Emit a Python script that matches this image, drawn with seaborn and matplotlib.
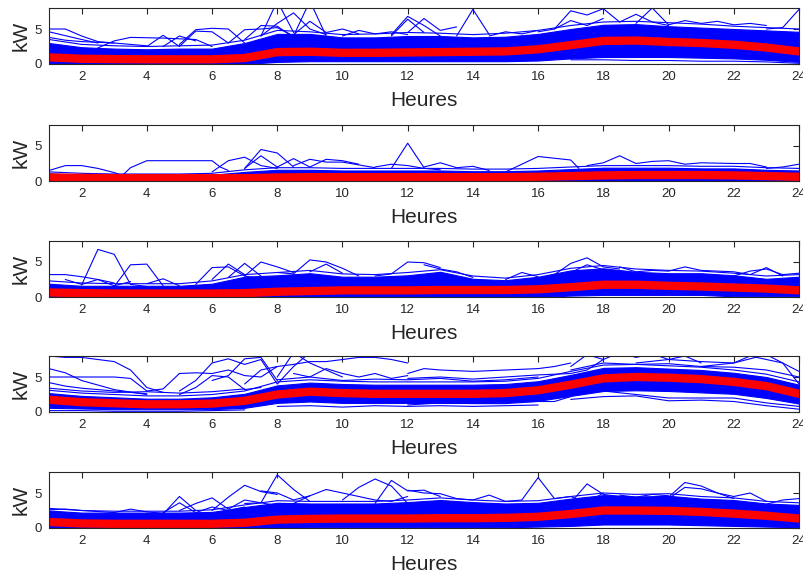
import numpy as np
import pandas as pd
import matplotlib
matplotlib.use('Agg')
import matplotlib.pyplot as plt
import seaborn as sns

# hourly axis
hours = list(range(1, 25))

# mean profiles (red) per panel, kW
mean_1 = [0.95, 0.75, 0.7, 0.67, 0.67, 0.67, 0.85, 1.7, 1.75, 1.6, 1.6, 1.65,
          1.7, 1.75, 1.8, 2.1, 2.7, 3.3, 3.35, 3.15, 3.0, 2.75, 2.35, 1.8]
mean_2 = [0.5, 0.45, 0.4, 0.4, 0.4, 0.4, 0.4, 0.5, 0.55, 0.55, 0.55, 0.55,
          0.55, 0.55, 0.55, 0.6, 0.7, 0.8, 0.85, 0.85, 0.85, 0.8, 0.7, 0.6]
mean_3 = [0.65, 0.55, 0.5, 0.5, 0.5, 0.5, 0.55, 0.75, 0.85, 0.95, 0.95, 0.95,
          1.0, 1.0, 1.0, 1.1, 1.4, 1.75, 1.75, 1.6, 1.5, 1.35, 1.2, 0.95]
mean_4 = [1.75, 1.4, 1.25, 1.1, 1.1, 1.2, 1.6, 2.5, 2.9, 2.7, 2.6, 2.6,
          2.6, 2.6, 2.7, 3.1, 3.9, 4.8, 5.0, 4.9, 4.7, 4.3, 3.7, 2.6]
mean_5 = [0.85, 0.65, 0.6, 0.6, 0.6, 0.6, 0.75, 1.2, 1.3, 1.35, 1.35, 1.35,
          1.4, 1.4, 1.45, 1.6, 2.0, 2.5, 2.5, 2.45, 2.3, 2.05, 1.75, 1.35]

# dense part of the individual curves (lower / upper edge)
low_1 = [0, 0, 0, 0, 0, 0, 0, 0.3, 0.4, 0.4, 0.4, 0.4,
         0.4, 0.4, 0.4, 0.5, 0.8, 1.0, 1.0, 1.0, 0.9, 0.8, 0.6, 0.3]
high_1 = [3.0, 2.4, 2.2, 2.1, 2.2, 2.2, 3.0, 4.3, 4.3, 3.8, 3.8, 4.0,
          4.0, 3.8, 3.9, 4.3, 5.0, 5.6, 5.7, 5.4, 5.2, 5.0, 4.8, 4.6]
low_2 = [0] * 24
high_2 = [1.1, 0.9, 0.8, 0.8, 0.8, 0.9, 1.3, 1.6, 1.6, 1.5, 1.5, 1.5,
          1.5, 1.4, 1.4, 1.5, 1.7, 1.9, 1.9, 1.9, 1.8, 1.8, 1.6, 1.5]
low_3 = [0, 0, 0, 0, 0, 0, 0, 0, 0, 0, 0, 0,
         0, 0, 0, 0, 0.2, 0.3, 0.3, 0.3, 0.3, 0.1, 0.1, 0.1]
high_3 = [1.9, 1.6, 1.6, 1.6, 1.6, 1.9, 2.9, 3.1, 3.4, 2.9, 2.9, 3.1,
          3.6, 2.6, 2.4, 2.9, 3.8, 4.1, 3.6, 3.4, 3.4, 3.1, 2.6, 2.9]
low_4 = [0.6, 0.5, 0.4, 0.4, 0.4, 0.4, 0.6, 1.3, 1.5, 1.3, 1.3, 1.3,
         1.3, 1.3, 1.4, 1.6, 2.3, 3.0, 3.1, 3.0, 2.8, 2.6, 2.0, 1.2]
high_4 = [2.7, 2.3, 2.1, 1.9, 1.9, 2.1, 2.6, 3.8, 4.2, 4.0, 3.9, 3.9,
          3.9, 3.9, 4.0, 4.4, 5.3, 6.3, 6.4, 6.2, 6.0, 5.6, 5.0, 3.9]
low_5 = [0, 0, 0, 0, 0, 0, 0, 0, 0.1, 0.1, 0.1, 0.1,
         0.1, 0.1, 0.1, 0.2, 0.3, 0.5, 0.5, 0.5, 0.4, 0.3, 0.2, 0.1]
high_5 = [2.5, 2.2, 2.2, 2.2, 2.2, 2.3, 3.0, 3.6, 3.5, 3.5, 3.5, 3.7,
          4.0, 3.7, 3.5, 3.6, 4.2, 4.7, 4.5, 4.6, 4.2, 4.0, 3.5, 3.3]

# a curve running just above the dense band
edge_1 = [3.5, 2.8, 2.6, 2.5, 2.6, 2.7, 3.4, 4.8, 4.6, 4.2, 4.3, 4.5,
          4.4, 4.2, 4.4, 4.8, 5.5, 6.0, 6.1, 5.9, 5.7, 5.4, 5.2, 5.0]
edge_2 = [1.3, 1.1, 1.0, 1.0, 1.0, 1.1, 1.6, 1.9, 1.9, 1.8, 1.8, 1.8,
          1.8, 1.7, 1.7, 1.8, 2.0, 2.2, 2.2, 2.2, 2.1, 2.1, 1.9, 1.8]
edge_3 = [2.3, 2.0, 1.9, 1.9, 1.9, 2.3, 3.2, 3.5, 3.8, 3.3, 3.2, 3.5,
          3.9, 3.0, 2.7, 3.2, 4.1, 4.5, 4.0, 3.8, 3.7, 3.4, 3.0, 3.2]
edge_4 = [3.1, 2.7, 2.5, 2.3, 2.3, 2.5, 3.0, 4.3, 4.6, 4.4, 4.3, 4.3,
          4.3, 4.3, 4.4, 4.8, 5.8, 6.7, 6.8, 6.6, 6.4, 6.0, 5.4, 4.3]
edge_5 = [2.8, 2.5, 2.4, 2.4, 2.4, 2.6, 3.3, 3.9, 3.8, 3.8, 3.8, 4.0,
          4.3, 4.0, 3.8, 3.9, 4.5, 5.0, 4.8, 4.9, 4.5, 4.3, 3.8, 3.6]

# individual curves that leave the dense band (half-hourly points)
spikes_1 = [
    ([1, 1.5, 2, 2.5, 3], [5.0, 5.0, 4.0, 3.2, 3.0]),
    ([1, 2, 2.5], [4.6, 3.5, 3.0]),
    ([1, 1.5, 2, 3, 4], [3.8, 3.4, 3.2, 3.0, 2.6]),
    ([2.5, 3, 3.5, 4.5, 5.5, 6], [2.3, 3.3, 3.8, 3.7, 3.5, 2.5]),
    ([5, 5.5, 6, 6.5, 7], [2.8, 4.9, 5.1, 5.0, 3.0]),
    ([5, 5.5, 6, 6.5], [2.5, 4.7, 4.6, 3.0]),
    ([4, 4.5, 5], [2.5, 4.1, 2.5]),
    ([4.5, 5, 5.5], [2.5, 4.0, 3.3]),
    ([6.5, 7, 7.5, 8, 8.5], [3.0, 4.9, 5.0, 5.2, 4.0]),
    ([7, 7.5, 8, 8.5], [3.5, 5.5, 5.4, 3.8]),
    ([7.5, 8, 8.5, 9, 9.5], [4.0, 5.8, 7.3, 5.0, 4.2]),
    ([8.5, 9, 9.5], [4.0, 9.0, 4.0]),
    ([7.5, 8, 8.5], [4.0, 9.0, 4.5]),
    ([8.5, 9, 9.5, 10, 10.5], [4.2, 6.1, 4.5, 5.0, 4.3]),
    ([10, 10.5, 11, 11.5, 12], [4.0, 4.8, 4.3, 4.6, 4.2]),
    ([11.5, 12, 12.5, 13], [4.2, 6.8, 5.5, 4.0]),
    ([11.5, 12, 12.5], [4.0, 6.4, 4.5]),
    ([12, 12.5, 13, 13.5], [4.5, 6.5, 4.8, 5.3]),
    ([13.5, 14, 14.5], [4.0, 7.8, 4.2]),
    ([14.5, 15, 15.5, 16], [4.0, 4.6, 4.3, 4.8]),
    ([16, 16.5, 17, 17.5, 18, 18.5], [4.6, 5.0, 7.6, 7.0, 7.9, 6.0]),
    ([16.5, 17, 17.5, 18], [5.0, 6.2, 5.5, 6.5]),
    ([18.5, 19, 19.5, 20], [6.0, 7.1, 6.0, 5.5]),
    ([19, 19.5, 20], [5.8, 8.0, 5.6]),
    ([20, 20.5, 21, 21.5, 22, 22.5, 23], [5.6, 6.2, 5.8, 6.1, 5.6, 5.8, 5.5]),
    ([23, 23.5, 24], [5.0, 5.2, 7.8]),
    ([17, 18, 19, 20, 21, 22, 23, 24], [0.6, 0.6, 0.5, 0.5, 0.4, 0.4, 0.3, 0.1]),
]
spikes_2 = [
    ([1, 1.5, 2, 2.5, 3, 3.25], [1.5, 2.2, 2.2, 1.8, 1.2, 0.8]),
    ([3.25, 3.5, 4, 4.5, 5, 5.5, 6, 6.25, 6.5], [0.8, 1.9, 2.9, 2.9, 2.9, 2.9, 2.9, 2.0, 1.5]),
    ([6, 6.5, 7, 7.5, 8], [1.3, 2.9, 3.4, 2.2, 1.8]),
    ([7, 7.5, 8, 8.5], [1.8, 4.5, 4.0, 2.0]),
    ([7, 7.5, 8], [1.8, 3.6, 2.0]),
    ([8, 8.5, 9, 9.5, 10, 10.5], [2.0, 3.2, 2.0, 3.1, 2.9, 2.4]),
    ([8.5, 9, 9.5, 10, 10.5, 11], [2.2, 3.1, 2.7, 2.7, 2.3, 1.9]),
    ([11, 11.5, 12, 12.5, 13], [2.0, 2.4, 2.2, 1.8, 1.6]),
    ([11.5, 12, 12.5], [1.8, 5.4, 1.9]),
    ([12.5, 13, 13.5, 14, 14.5], [2.0, 2.6, 1.9, 2.1, 1.5]),
    ([15, 15.5, 16, 17, 17.25], [1.3, 2.4, 3.5, 3.0, 1.8]),
    ([17.5, 18, 18.5, 19, 19.5, 20, 20.5, 21, 22, 22.5, 23],
     [2.2, 2.6, 3.6, 2.5, 2.8, 2.9, 2.4, 2.6, 2.5, 2.5, 2.0]),
    ([23, 23.5, 24], [1.8, 2.0, 2.4]),
]
spikes_3 = [
    ([1, 1.5, 2, 2.5, 3], [3.2, 3.2, 2.9, 2.5, 2.0]),
    ([2, 2.5, 3, 3.5, 4], [1.7, 6.8, 6.1, 1.8, 1.5]),
    ([3, 3.5, 4, 4.5], [1.5, 4.6, 4.7, 1.6]),
    ([1.5, 2, 2.5, 3, 3.5], [2.5, 1.8, 2.5, 1.6, 2.2]),
    ([4, 4.5, 5], [1.9, 2.6, 1.6]),
    ([5.5, 6, 6.5, 7, 7.5], [1.8, 4.2, 4.3, 3.0, 2.6]),
    ([6, 6.5, 7], [2.5, 4.7, 3.2]),
    ([6.5, 7, 7.5], [2.8, 4.8, 3.0]),
    ([7, 7.5, 8, 8.5], [3.0, 5.0, 4.3, 3.5]),
    ([8, 8.5, 9, 9.5, 10, 10.5], [3.5, 3.3, 5.3, 5.0, 4.1, 3.0]),
    ([9, 9.5, 10], [3.6, 4.7, 3.4]),
    ([11, 11.5, 12, 12.5, 13], [3.0, 3.3, 5.0, 4.9, 4.2]),
    ([12.5, 13, 13.5, 14], [4.6, 4.0, 3.6, 2.8]),
    ([15, 15.5, 16], [2.5, 3.5, 2.9]),
    ([16.5, 17, 17.5, 18, 18.5], [3.2, 4.8, 5.6, 4.3, 4.0]),
    ([17, 17.5, 18], [3.5, 4.6, 3.9]),
    ([18.5, 19, 19.5, 20, 20.5, 21, 22, 22.5, 23, 23.5],
     [4.3, 3.6, 3.8, 3.7, 4.3, 3.8, 3.6, 3.2, 4.2, 3.0]),
    ([22, 22.5, 23, 23.5, 24], [3.0, 3.7, 4.0, 3.2, 3.4]),
]
spikes_4 = [
    ([1, 1.5, 2, 3, 3.5, 4, 4.5], [8.0, 7.8, 7.8, 7.2, 6.0, 3.5, 2.8]),
    ([1, 1.5, 2, 3, 4], [6.2, 5.6, 4.5, 3.2, 2.5]),
    ([1, 2, 3, 3.5, 4], [5.0, 5.0, 5.0, 4.8, 3.0]),
    ([1, 1.5, 2, 3, 4], [4.2, 3.7, 3.4, 3.0, 2.6]),
    ([1, 2, 3, 4, 5, 6, 7], [3.4, 3.0, 2.8, 2.9, 2.7, 2.9, 3.3]),
    ([1, 2, 3, 4, 5, 6, 7], [0.2, 0.2, 0.1, 0.1, 0.1, 0.2, 0.3]),
    ([4, 4.5, 5, 5.5, 6, 6.5, 7, 7.5, 8], [3.0, 3.3, 5.5, 5.6, 5.5, 6.0, 5.2, 5.0, 6.5]),
    ([5, 5.5, 6, 6.5, 7, 7.5, 8, 8.5, 9], [3.0, 4.5, 7.0, 7.6, 6.8, 7.5, 4.0, 6.5, 8.5]),
    ([6, 6.5, 7, 7.5, 8], [4.5, 5.2, 7.6, 7.8, 4.5]),
    ([5, 5.5, 6, 6.5, 7, 7.5], [2.5, 3.5, 5.2, 5.0, 3.2, 3.5]),
    ([7, 7.5, 8, 8.5, 9, 9.5, 10, 10.5, 11, 11.5, 12],
     [4.0, 6.0, 6.5, 6.8, 7.2, 7.2, 7.5, 7.8, 7.8, 7.5, 7.0]),
    ([8, 8.5, 9, 9.5, 10], [5.0, 8.5, 7.0, 6.0, 5.0]),
    ([8.5, 9, 9.5, 10, 10.5, 11, 11.5, 12], [5.5, 5.0, 6.2, 5.5, 5.0, 5.5, 4.8, 5.2]),
    ([8, 9, 10, 11, 12, 13, 14, 15, 16], [4.6, 5.0, 4.5, 4.7, 4.6, 4.8, 4.4, 4.6, 5.0]),
    ([8, 9, 10, 11, 12, 13, 14, 15, 16], [0.8, 0.9, 0.7, 0.9, 0.8, 0.9, 0.8, 0.9, 1.0]),
    ([12, 12.5, 13, 14, 15, 16, 16.5, 17], [5.5, 6.2, 6.0, 5.8, 6.0, 6.2, 6.5, 7.0]),
    ([12, 13, 14, 15, 16, 17, 17.5, 18], [4.8, 5.0, 4.7, 5.0, 5.3, 5.5, 6.0, 7.5]),
    ([17, 17.5, 18, 18.5, 19, 19.5, 20, 20.5, 21], [6.5, 8.2, 7.5, 8.5, 7.8, 8.3, 7.5, 8.0, 7.0]),
    ([19, 20, 21, 22, 22.5, 23, 23.5, 24], [7.0, 7.5, 7.2, 7.0, 8.0, 7.5, 7.0, 5.8]),
    ([21, 22, 22.5, 23, 23.5, 24], [6.5, 7.0, 7.6, 8.2, 7.0, 4.0]),
    ([17, 18, 19, 20, 21, 22, 23, 24], [6.0, 7.0, 6.8, 6.9, 6.5, 6.4, 6.0, 5.0]),
    ([12, 13, 14, 15, 16, 16.5, 17], [1.0, 1.3, 1.2, 1.2, 1.5, 1.5, 2.2]),
    ([17, 18, 19, 20, 21, 22, 23, 24], [2.5, 3.0, 2.5, 2.0, 2.0, 2.0, 1.3, 0.8]),
    ([17, 18, 19, 20, 21, 22, 23, 24], [1.8, 2.2, 2.3, 1.6, 1.7, 1.5, 0.9, 0.4]),
]
spikes_5 = [
    ([1, 1.5, 2, 3, 3.5, 4, 4.5], [2.6, 2.7, 2.5, 2.2, 2.7, 2.3, 2.1]),
    ([4.5, 5, 5.5], [2.0, 4.5, 2.5]),
    ([4.5, 5, 5.5, 6, 6.5, 7], [2.2, 3.6, 2.2, 3.0, 2.5, 3.0]),
    ([5, 5.5, 6, 6.5, 7, 7.5, 8], [2.5, 3.5, 4.3, 2.7, 4.0, 3.6, 3.2]),
    ([6, 6.5, 7, 7.5, 8], [2.5, 4.4, 6.1, 5.2, 4.8]),
    ([7, 7.5, 8, 8.5, 9], [3.5, 3.6, 7.6, 5.5, 3.8]),
    ([7.5, 8, 8.5, 9], [5.3, 5.0, 4.0, 4.6]),
    ([8.5, 9, 9.5, 10, 10.5, 11, 11.5, 12], [3.5, 4.6, 5.5, 5.0, 4.5, 4.0, 3.8, 4.5]),
    ([10, 10.5, 11, 11.5, 12], [4.0, 5.8, 7.0, 6.0, 3.5]),
    ([11, 11.5, 12, 12.5, 13], [3.5, 6.8, 5.3, 5.4, 4.5]),
    ([12, 12.5, 13, 13.5, 14, 14.5, 15], [5.4, 5.0, 4.9, 4.2, 4.0, 4.7, 3.8]),
    ([15, 15.5, 16, 16.5, 17, 17.5, 18], [3.8, 4.0, 7.2, 4.2, 4.5, 3.6, 5.0]),
    ([17, 17.5, 18, 18.5], [3.6, 6.3, 4.8, 4.5]),
    ([18.5, 19, 19.5, 20], [4.7, 4.4, 4.8, 4.6]),
    ([20, 20.5, 21, 21.5, 22], [4.4, 6.5, 6.0, 5.0, 4.2]),
    ([20, 20.5, 21, 21.5, 22, 22.5, 23], [4.2, 5.8, 5.6, 5.0, 4.5, 5.0, 3.8]),
    ([23, 23.5, 24], [3.4, 4.0, 4.2]),
]

panels = [
    (mean_1, low_1, high_1, edge_1, spikes_1),
    (mean_2, low_2, high_2, edge_2, spikes_2),
    (mean_3, low_3, high_3, edge_3, spikes_3),
    (mean_4, low_4, high_4, edge_4, spikes_4),
    (mean_5, low_5, high_5, edge_5, spikes_5),
]

sns.set_style('white')
plt.rcParams['font.family'] = ['Liberation Sans', 'DejaVu Sans']

W, H = 804, 579
fig = plt.figure(figsize=(W / 100, H / 100), dpi=100)

# axes boxes in pixels (top edge)
tops = [8, 125, 241, 356, 472]
ax_h = 56
left, right = 49, 799
text_col = '#262626'

for top, (mean_v, low_v, high_v, edge_v, spikes) in zip(tops, panels):
    ax = fig.add_axes([left / W, 1 - (top + ax_h) / H, (right - left) / W, ax_h / H])

    ax.fill_between(hours, low_v, high_v, color='blue', lw=0.8)

    rows = []
    for i, (xs, ys) in enumerate(spikes + [(hours, edge_v)]):
        for x, y in zip(xs, ys):
            rows.append({'hour': x, 'kw': y, 'id': i})
    sp = pd.DataFrame(rows)
    sns.lineplot(data=sp, x='hour', y='kw', units='id', estimator=None,
                 sort=False, color='blue', lw=0.8, ax=ax)

    sns.lineplot(x=hours, y=mean_v, color='red', lw=6, ax=ax)

    ax.set_xlim(1, 24)
    ax.set_ylim(0, 8)
    ax.set_xticks(range(2, 25, 2))
    ax.set_yticks([0, 5])
    ax.tick_params(direction='in', length=4, width=0.8, top=True, right=True,
                   labelsize=9.5, colors=text_col, pad=5)
    for s in ax.spines.values():
        s.set_color(text_col)
        s.set_linewidth(0.8)
    ax.set_xlabel('Heures', fontsize=15, color=text_col, labelpad=6)
    ax.set_ylabel('kW', fontsize=15, color=text_col, labelpad=3)

fig.savefig('out.png', dpi=100)
